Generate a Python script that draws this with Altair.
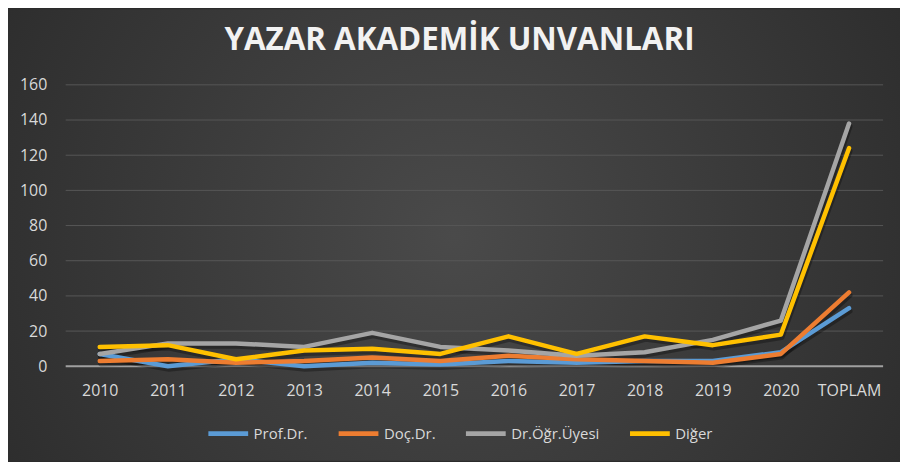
import altair as alt
import pandas as pd

categories = ["2010", "2011", "2012", "2013", "2014", "2015", "2016", "2017", "2018", "2019", "2020", "TOPLAM"]
series_names = ["Prof.Dr.", "Doç.Dr.", "Dr.Öğr.Üyesi", "Diğer"]
prof = [7, 0, 4, 0, 2, 1, 3, 2, 3, 3, 8, 33]
doc = [3, 4, 2, 3, 5, 3, 6, 4, 3, 2, 7, 42]
dr = [7, 13, 13, 11, 19, 11, 9, 6, 8, 15, 26, 138]
diger = [11, 12, 4, 9, 10, 7, 17, 7, 17, 12, 18, 124]
colors = ["#5B9BD5", "#ED7D31", "#A5A5A5", "#FFC000"]
y_ticks = [0, 20, 40, 60, 80, 100, 120, 140, 160]
title_text = "YAZAR AKADEMİK UNVANLARI"

rows = []
for name, vals in zip(series_names, [prof, doc, dr, diger]):
    for c, v in zip(categories, vals):
        rows.append({"yil": c, "seri": name, "deger": v})
df = pd.DataFrame(rows)

W, H = 822, 283
PL, PT, PR, PB = 58, 76, 17, 95
FONT = "Open Sans"

xscale = alt.Scale(type="point", domain=categories, padding=0.5)
yscale = alt.Scale(domain=[0, 160], nice=False)
cscale = alt.Scale(domain=series_names, range=colors)

xaxis = alt.Axis(labelAngle=0, ticks=False, domain=False, grid=False,
                 labelColor="#d9d9d9", labelFont=FONT, labelFontSize=16,
                 labelPadding=16, zindex=1, title=None)
yaxis = alt.Axis(values=y_ticks, ticks=False, domain=False, grid=False,
                 labelColor="#d9d9d9", labelFont=FONT, labelFontSize=16,
                 labelPadding=19, zindex=1, title=None)

bg = alt.Chart(pd.DataFrame({"a": [0]})).mark_rect(
    fill=alt.RadialGradient(
        gradient="radial",
        x1=0.5, y1=0.5, r1=0, x2=0.5, y2=0.5, r2=0.72,
        stops=[alt.GradientStop(offset=0, color="#4a4a4a"),
               alt.GradientStop(offset=1, color="#262626")],
    )
).encode(
    x=alt.value(-PL), x2=alt.value(W + PR),
    y=alt.value(-PT), y2=alt.value(H + PB),
)

grid = alt.Chart(pd.DataFrame({"deger": y_ticks[1:]})).mark_rule(
    color="#575757", strokeWidth=1
).encode(y=alt.Y("deger:Q", scale=yscale, axis=yaxis))

base_rule = alt.Chart(pd.DataFrame({"deger": [0]})).mark_rule(
    color="#a0a0a0", strokeWidth=2
).encode(y=alt.Y("deger:Q", scale=yscale, axis=yaxis))

shadow = alt.Chart(df).mark_line(
    color="black", opacity=0.3, strokeWidth=5, yOffset=3, xOffset=1,
    strokeCap="round", strokeJoin="round"
).encode(
    x=alt.X("yil:N", scale=xscale, sort=categories, axis=xaxis),
    y=alt.Y("deger:Q", scale=yscale, axis=yaxis),
    detail="seri:N",
)

line_layers = []
for name in series_names:
    line_layers.append(
        alt.Chart(df).transform_filter(alt.datum.seri == name).mark_line(
            strokeWidth=4.5, strokeCap="round", strokeJoin="round"
        ).encode(
            x=alt.X("yil:N", scale=xscale, sort=categories, axis=xaxis),
            y=alt.Y("deger:Q", scale=yscale, axis=yaxis),
            color=alt.Color("seri:N", scale=cscale, title=None,
                            legend=alt.Legend(orient="none", direction="horizontal",
                                              legendX=141, legendY=328,
                                              symbolType="stroke", symbolSize=1600,
                                              symbolStrokeWidth=5, labelColor="#d9d9d9",
                                              labelFont=FONT, labelFontSize=15,
                                              labelOffset=3, columnPadding=20, padding=0)),
        )
    )

tdf = pd.DataFrame({"t": [title_text]})
title_mark = alt.Chart(tdf).mark_text(
    font=FONT, fontWeight="bold", fontSize=31.5, color="#f2f2f2",
    align="center", baseline="alphabetic"
).encode(text="t:N", x=alt.value(396), y=alt.value(-35))

chart = alt.layer(bg, grid, base_rule, shadow, *line_layers, title_mark).properties(
    width=W, height=H,
    autosize=alt.AutoSizeParams(type="none"),
    padding={"left": PL, "top": PT, "right": PR, "bottom": PB},
    background="#2b2b2b",
).configure_view(strokeWidth=0)

chart.save("out.html", embed_options={"renderer": "svg", "actions": False})
